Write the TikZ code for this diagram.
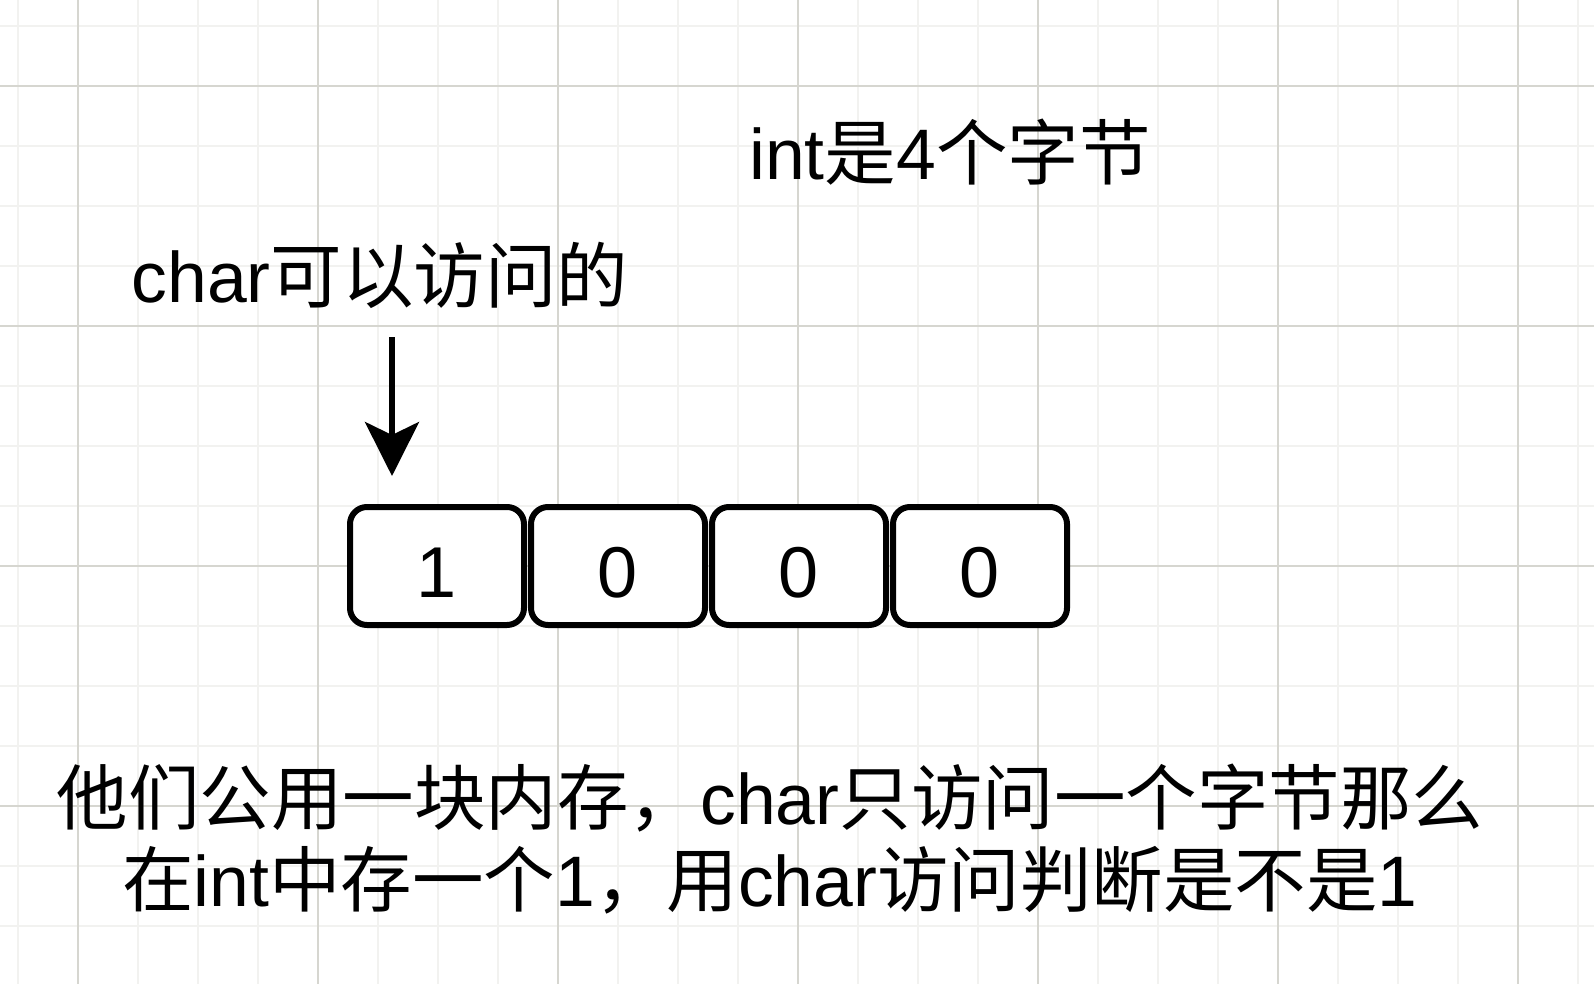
\documentclass[tikz,border=0pt]{standalone}
\usepackage{fontspec}
\setmainfont{Liberation Sans}
\newfontfamily\cjk{Noto Sans CJK SC}
\usetikzlibrary{arrows.meta}
\definecolor{gridminor}{RGB}{242,242,240}
\definecolor{gridmajor}{RGB}{214,214,208}
\tikzset{
  minorline/.style={draw=gridminor,line width=1.2pt},
  majorline/.style={draw=gridmajor,line width=1.4pt},
  lbl/.style={inner sep=0pt,font=\fontsize{71.5}{82}\selectfont,text=black},
  cell/.style={draw=black,line width=6pt,rounded corners=17pt,minimum width=174pt,minimum height=118pt,inner sep=0pt,fill=white,font=\fontsize{72}{82}\selectfont,text height=63pt,text depth=0pt},
  pointer/.style={draw=black,line width=5.5pt,-{Stealth[length=54pt,width=54pt,inset=13pt]}}
}
\begin{document}
\begin{tikzpicture}[x=1pt,y=-1pt]
\useasboundingbox (0,0) rectangle (1594,984);
\fill[white] (0,0) rectangle (1594,984);
% grid
\foreach \x in {18,78,...,1594} \draw[minorline] (\x,0) -- (\x,984);
\foreach \y in {26,86,...,984} \draw[minorline] (0,\y) -- (1594,\y);
\foreach \x in {78,318,...,1594} \draw[majorline] (\x,0) -- (\x,984);
\foreach \y in {86,326,...,984} \draw[majorline] (0,\y) -- (1594,\y);
% labels
\node[lbl] (intlbl) at (950,152) {int{\cjk 是}4{\cjk 个字节}};
\node[lbl] (charlbl) at (380,275) {char{\cjk 可以访问的}};
% cells
\node[cell] (c1) at (437,566) {1};
\node[cell] (c2) at (618,566) {0};
\node[cell] (c3) at (799,566) {0};
\node[cell] (c4) at (980,566) {0};
% arrow
\coordinate (astart) at (392,337);
\coordinate (aend) at (392,476);
\draw[pointer] (astart) -- (aend);
% bottom text
\node[lbl,align=center] (note) at (770,839) {{\cjk 他们公用一块内存，}char{\cjk 只访问一个字节那么}\\{\cjk 在}int{\cjk 中存一个}1{\cjk ，用}char{\cjk 访问判断是不是}1};
\end{tikzpicture}
\end{document}
